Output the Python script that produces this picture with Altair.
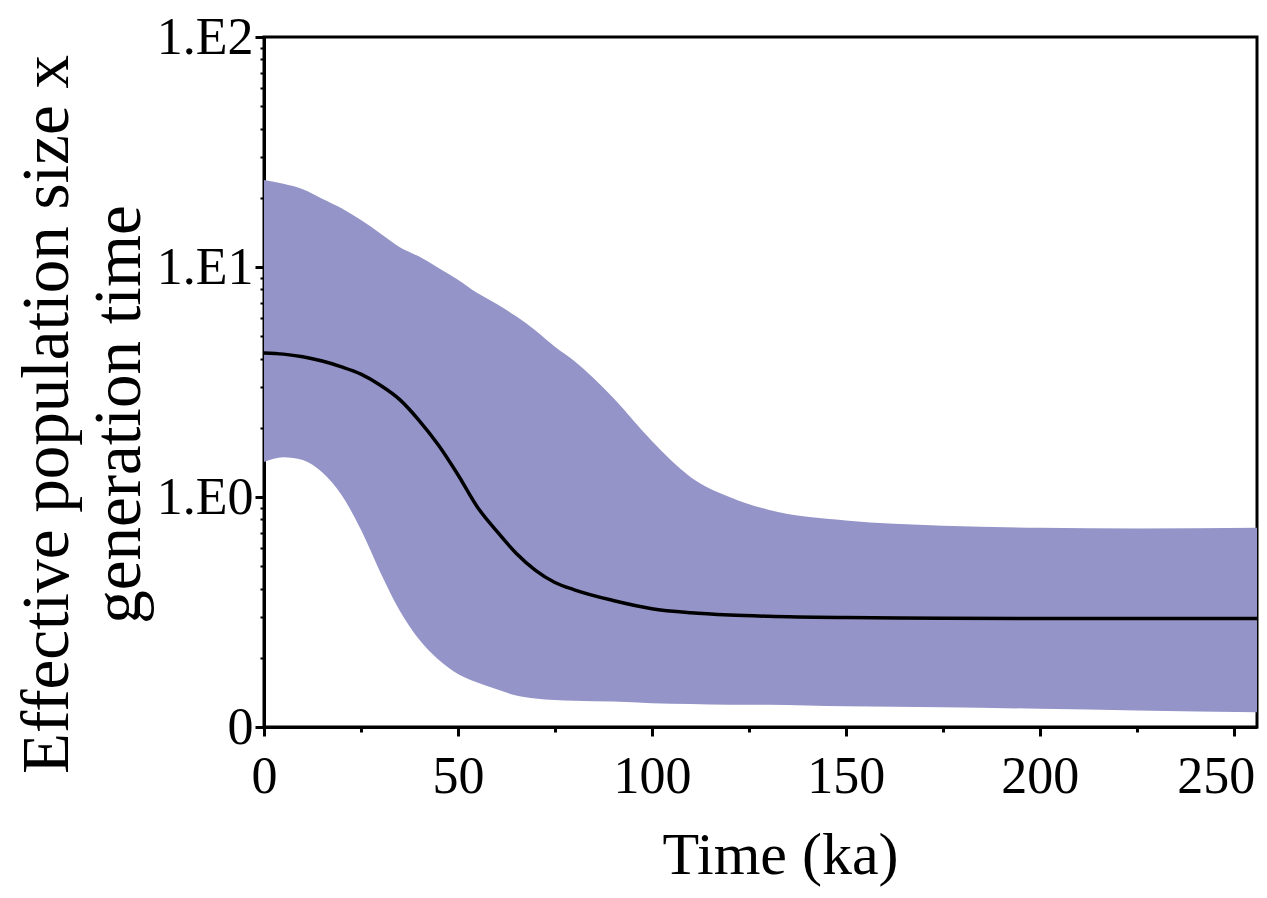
import altair as alt
import pandas as pd

# ---- data ----
TIME_KA = [0, 5, 10, 15, 20, 25, 30, 35, 40, 45, 50, 55, 60, 65, 70, 75, 80,
           90, 100, 110, 120, 130, 150, 175, 200, 225, 256]
UPPER = [23.9, 23.0, 21.8, 19.8, 18.0, 16.0, 14.0, 12.2, 11.1, 9.9, 8.8, 7.7,
         6.9, 6.1, 5.3, 4.5, 3.9, 2.7, 1.75, 1.22, 1.0, 0.88, 0.79, 0.75,
         0.735, 0.73, 0.735]
MEDIAN = [4.23, 4.18, 4.07, 3.9, 3.68, 3.42, 3.06, 2.65, 2.15, 1.68, 1.25,
          0.905, 0.71, 0.57, 0.48, 0.425, 0.395, 0.355, 0.327, 0.314, 0.307,
          0.303, 0.299, 0.297, 0.296, 0.296, 0.296]
LOWER = [1.42, 1.49, 1.45, 1.28, 1.02, 0.72, 0.47, 0.32, 0.24, 0.196, 0.170,
         0.156, 0.146, 0.137, 0.133, 0.131, 0.130, 0.129, 0.127, 0.126, 0.125,
         0.125, 0.123, 0.122, 0.120, 0.118, 0.116]

X_TICKS = [0, 25, 50, 75, 100, 125, 150, 175, 200, 225, 250]
X_MAJOR = [0, 50, 100, 150, 200, 250]
Y_TICKS = [0.1, 0.2, 0.3, 0.4, 0.5, 0.6, 0.7, 0.8, 0.9,
           1, 2, 3, 4, 5, 6, 7, 8, 9,
           10, 20, 30, 40, 50, 60, 70, 80, 90, 100]
Y_MAJOR = [0.1, 1, 10, 100]
Y_MAJOR_LABELS = ["0", "1.E0", "1.E1", "1.E2"]

X_TITLE = "Time (ka)"
Y_TITLE = ["Effective population size x", "generation time"]

FILL = "#9494C8"
FONT = "Liberation Serif"

df = pd.DataFrame({"t": TIME_KA, "upper": UPPER, "median": MEDIAN, "lower": LOWER})

x_major_test = " || ".join(f"datum.value == {v}" for v in X_MAJOR)
y_major_test = " || ".join(f"datum.value == {v}" for v in Y_MAJOR)
y_label_expr = "".join(f"datum.value == {v} ? '{lab}' : " for v, lab in zip(Y_MAJOR, Y_MAJOR_LABELS)) + "''"
x_label_expr = f"({x_major_test}) ? datum.label : ''"
x_last = X_MAJOR[-1]

x_scale = alt.Scale(domain=[0, 256], nice=False, zero=False)
y_scale = alt.Scale(type="log", domain=[0.1, 100], nice=False)

x_axis = alt.Axis(
    values=X_TICKS, labelExpr=x_label_expr, title=X_TITLE, grid=False,
    tickSize={"condition": {"test": x_major_test, "value": 9}, "value": 5},
    tickWidth=3, tickColor="black", domainColor="black", domainWidth=3,
    labelFont=FONT, labelFontSize=52, labelColor="black", labelPadding=15,
    labelOverlap=False, labelFlush=False,
    labelOffset={"condition": {"test": f"datum.value == {x_last}", "value": -18}, "value": 0},
    titleFont=FONT, titleFontSize=60, titleFontWeight="normal", titleColor="black",
    titleX=516, titleY=99, titleBaseline="top",
)
y_axis = alt.Axis(
    values=Y_TICKS, labelExpr=y_label_expr, title=Y_TITLE, grid=False,
    tickSize={"condition": {"test": y_major_test, "value": 9}, "value": 4},
    tickWidth={"condition": {"test": y_major_test, "value": 3}, "value": 2},
    tickColor="black", domainColor="black", domainWidth=3,
    labelFont=FONT, labelFontSize=52, labelColor="black", labelPadding=2,
    labelOverlap=False, labelFlush=False, labelBaseline="middle",
    titleFont=FONT, titleFontSize=67, titleFontWeight="normal", titleColor="black",
    titleAngle=270, titleAlign="center", titleBaseline="alphabetic",
    titleLineHeight=72, titleX=-197, titleY=377,
)

base = alt.Chart(df)
band = base.mark_area(color=FILL, opacity=1, interpolate="monotone", clip=True).encode(
    x=alt.X("t:Q", scale=x_scale, axis=x_axis),
    y=alt.Y("upper:Q", scale=y_scale, axis=y_axis),
    y2="lower:Q",
)
line = base.mark_line(color="black", strokeWidth=3.5, interpolate="monotone", clip=True).encode(
    x=alt.X("t:Q", scale=x_scale),
    y=alt.Y("median:Q", scale=y_scale),
)

chart = (
    alt.layer(band, line)
    .properties(
        width=993, height=690,
        autosize=alt.AutoSizeParams(type="none"),
        padding={"left": 256, "top": 29, "right": 2, "bottom": 160},
        background="white",
    )
    .configure_view(stroke="black", strokeWidth=3)
)

chart.save("out.html", embed_options={"renderer": "svg", "actions": False})
